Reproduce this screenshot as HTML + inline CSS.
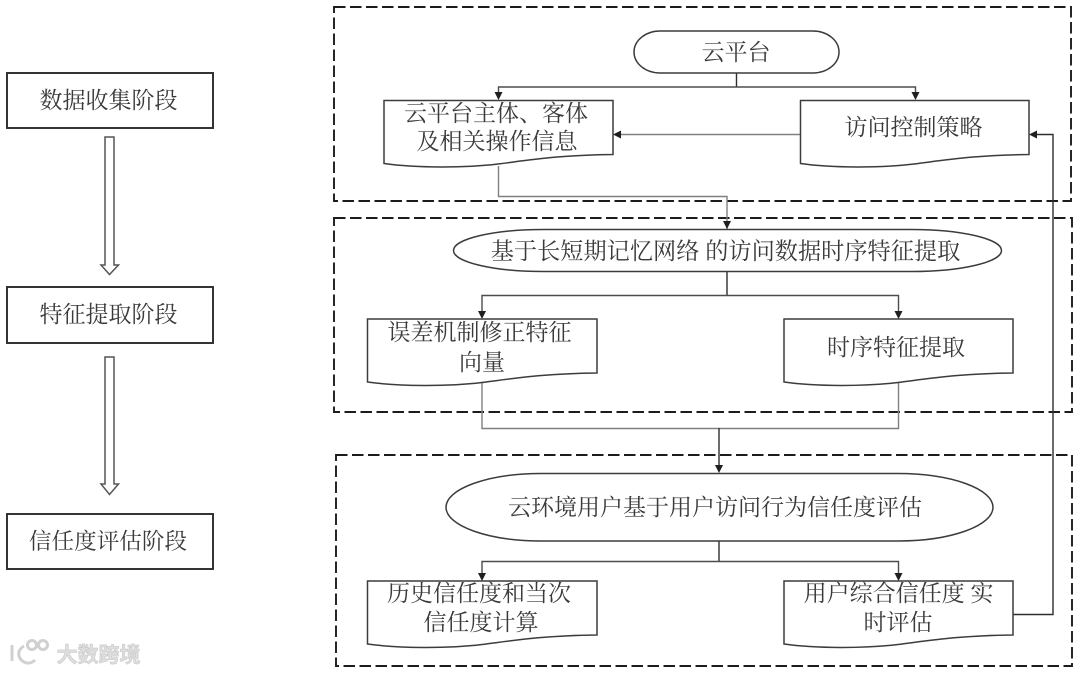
<!DOCTYPE html>
<html lang="zh">
<head>
<meta charset="utf-8">
<style>
html,body{margin:0;padding:0;background:#fff;width:1080px;height:673px;overflow:hidden}
svg{display:block}
text{font-family:"Liberation Serif","Noto Serif CJK SC",serif;font-size:23px;fill:#3a3a3a;text-anchor:middle}
.dash{fill:none;stroke:#1c1c1c;stroke-width:1.9;stroke-dasharray:11.500 4.500}
.sh{fill:#fff;stroke:#3c3c3c;stroke-width:1.500}
.box{fill:#fff;stroke:#2a2a2a;stroke-width:1.900}
.l{fill:none;stroke:#4d4d4d;stroke-width:1.400}
.g{fill:none;stroke:#808080;stroke-width:1.400}
.d{fill:none;stroke:#2e2e2e;stroke-width:1.400}
.a{fill:#1f1f1f;stroke:none}
.blk{fill:#fff;stroke:#555;stroke-width:1.500}
</style>
</head>
<body>
<svg width="1080" height="673" viewBox="0 0 1080 673" xmlns="http://www.w3.org/2000/svg">
<rect class="dash" x="334" y="7" width="737" height="194"/>
<rect class="dash" x="334" y="218" width="738" height="194"/>
<rect class="dash" x="336" y="455" width="736" height="211"/>

<!-- left column -->
<rect class="box" x="7" y="73" width="206" height="55"/>
<rect class="box" x="7" y="287" width="206" height="56"/>
<rect class="box" x="7" y="514" width="206" height="55"/>
<text x="108.500" y="108">数据收集阶段</text>
<text x="108.500" y="322">特征提取阶段</text>
<text x="108" y="549" style="font-size:22.600px">信任度评估阶段</text>
<path class="blk" d="M105 137H114V265H118.500L109.500 274.500L101 265H105Z"/>
<path class="blk" d="M105 357H114V484H118.500L109.500 494.500L101 484H105Z"/>

<!-- connectors -->
<path class="d" d="M736.500 73V87"/>
<path class="l" d="M498.500 93V87H915.500V93"/>
<path class="a" d="M494.500 92H502.500L498.500 100Z"/>
<path class="a" d="M911.500 92H919.500L915.500 100Z"/>
<path class="g" d="M800 134.500H620"/>
<path class="a" d="M613 134.500L621 130.500V138.500Z"/>
<path class="g" d="M498.500 166V196.500H727V230"/>
<path class="a" d="M723 221H731L727 229Z"/>
<path class="d" d="M727 271V295"/>
<path class="l" d="M482 312V295.500H898.500V312"/>
<path class="a" d="M478 311H486L482 319Z"/>
<path class="a" d="M894.500 311H902.500L898.500 319Z"/>
<path class="g" d="M482 381V428.500H898.500V381"/>
<path class="d" d="M719 428V466"/>
<path class="a" d="M715 465H723L719 473Z"/>
<path class="d" d="M719 541V561"/>
<path class="l" d="M482 574V561.500H898.500V574"/>
<path class="a" d="M478 573H486L482 581Z"/>
<path class="a" d="M894.500 573H902.500L898.500 581Z"/>
<path class="d" d="M1013 614.500H1053V134.500H1036"/>
<path class="a" d="M1029 134.500L1037 130.500V138.500Z"/>

<!-- terminators -->
<rect class="sh" x="634" y="31" width="205" height="42" rx="26" ry="21"/>
<text x="736" y="60">云平台</text>
<rect class="sh" x="453.500" y="229.500" width="548" height="42" rx="90" ry="21"/>
<text x="725.500" y="259" style="font-size:23.200px">基于长短期记忆网络 的访问数据时序特征提取</text>
<rect class="sh" x="446" y="473.500" width="547" height="67.500" rx="95" ry="33.700"/>
<text x="715" y="515">云环境用户基于用户访问行为信任度评估</text>

<!-- documents -->
<path class="sh" d="M384 100.500H613V154.500C560 155 530 160 498 164C465 168 415 168 384 163.500Z"/>
<text x="496" y="121">云平台主体、客体</text>
<text x="497" y="149">及相关操作信息</text>

<path class="sh" d="M800.500 100.500H1029V154.500C976 155 946 160 914 164C881 168 831 168 800.500 163.500Z"/>
<text x="913.500" y="135">访问控制策略</text>

<path class="sh" d="M367.500 319H597V373C544 373.500 514 378.500 482 382.500C449 386.500 399 386.500 367.500 382Z"/>
<text x="479.500" y="340">误差机制修正特征</text>
<text x="482" y="370">向量</text>

<path class="sh" d="M784 319H1013V373C960 373.500 930 378.500 898 382.500C865 386.500 815 386.500 784 382Z"/>
<text x="896" y="355">时序特征提取</text>

<path class="sh" d="M367.500 581H597V635C544 635.500 514 640.500 482 644.500C449 648.500 399 648.500 367.500 644Z"/>
<text x="479" y="601">历史信任度和当次</text>
<text x="481" y="630">信任度计算</text>

<path class="sh" d="M784 581H1013V635C960 635.500 930 640.500 898 644.500C865 648.500 815 648.500 784 644Z"/>
<text x="898.500" y="601">用户综合信任度 实</text>
<text x="898" y="630">时评估</text>

<!-- watermark -->
<g fill="none" stroke="#d0d0d0" stroke-width="3">
<path d="M12 645V661"/>
<path d="M24 646C17 650 17 658 24 662C28 664 32 663 35 660"/>
<circle cx="32" cy="645" r="4.500"/>
<circle cx="43" cy="645" r="4.500"/>
</g>
<text x="98.500" y="662" style="font-family:'Liberation Sans','Noto Sans CJK SC',sans-serif;font-size:21px;font-weight:700;fill:#dedede;stroke:#c4c4c4;stroke-width:.5">大数跨境</text>
</svg>
</body>
</html>
